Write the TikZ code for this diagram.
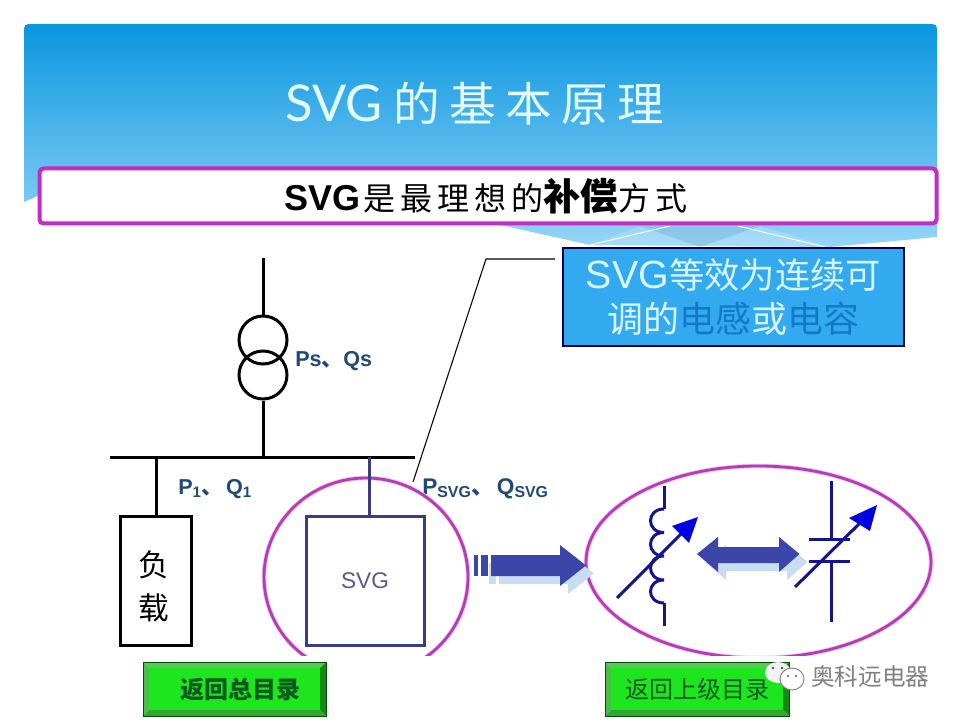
\documentclass[tikz,border=0pt]{standalone}
\usepackage{fontspec}
\setmainfont{Liberation Sans}
\newfontfamily\cjk{Noto Sans CJK SC}
\newfontfamily\cjkwide[LetterSpace=20]{Noto Sans CJK SC}
\newfontfamily\titlelatin{Lato}
\newcommand{\fs}[1]{\fontsize{#1}{#1}\selectfont}
\definecolor{navyline}{HTML}{3C3C82}
\definecolor{pinkring}{HTML}{B43CB4}
\definecolor{pinkglow}{HTML}{F2C4F2}
\definecolor{headpink}{HTML}{C42CC4}
\definecolor{darkcoil}{HTML}{14148C}
\definecolor{labelblue}{HTML}{1F4A78}
\definecolor{arrowblue}{HTML}{3C46A8}
\definecolor{arrowshadow}{HTML}{C8DCF2}
\definecolor{calloutfill}{HTML}{33AAF0}
\definecolor{calloutpale}{HTML}{D8F4FA}
\definecolor{calloutdeep}{HTML}{1478C8}
\definecolor{buttonface}{HTML}{1EE61E}
\definecolor{buttontext}{HTML}{0C5A1E}
\definecolor{bevelTop}{HTML}{58C858}
\definecolor{bevelLeft}{HTML}{48C048}
\definecolor{bevelRight}{HTML}{148A14}
\definecolor{bevelBottom}{HTML}{30A830}
\tikzset{
  blackline/.style={draw=black,line width=2.25pt},
  navystroke/.style={draw=navyline,line width=2.25pt},
  ringglow/.style={draw=pinkglow,line width=3.4pt},
  ring/.style={draw=pinkring,line width=2.1pt},
  coilline/.style={draw=darkcoil,line width=2.25pt},
  flowlabel/.style={text=labelblue,font=\bfseries\fs{16.2}\selectfont,inner sep=0pt,anchor=base west},
  bigarrow/.style={fill=arrowblue,draw=none},
  bigshadow/.style={fill=arrowshadow,draw=none},
  tiphead/.style={fill=blue!90!black,draw=none},
}
\newcommand{\greenbutton}[6]{%
  \fill[bevelTop] (#1,#2) -- (#3,#2) -- (#3-6,#2+6) -- (#1+6,#2+6) -- cycle;
  \fill[bevelLeft] (#1,#2) -- (#1+6,#2+6) -- (#1+6,#4-6) -- (#1,#4) -- cycle;
  \fill[bevelRight] (#3,#2) -- (#3,#4) -- (#3-6,#4-6) -- (#3-6,#2+6) -- cycle;
  \fill[bevelBottom] (#1,#4) -- (#3,#4) -- (#3-6,#4-6) -- (#1+6,#4-6) -- cycle;
  \node[fill=buttonface,draw=none,inner sep=0pt,minimum width=(#3-#1-12)*0.75pt,minimum height=(#4-#2-12)*0.75pt,text=buttontext] (#5) at ({(#1+#3)/2},{(#2+#4)/2}) {#6};
  \draw[draw=black!70!green,line width=0.6pt] (#1,#2) rectangle (#3,#4);
}
\begin{document}
\begin{tikzpicture}[x=0.75pt,y=-0.75pt]
\useasboundingbox (0,0) rectangle (960,720);
\fill[white] (0,0) rectangle (960,720);
% slide background
\shade[top color={rgb,255:red,10;green,150;blue,224},middle color={rgb,255:red,72;green,174;blue,236},bottom color={rgb,255:red,150;green,214;blue,248}]
  (24,202) -- (24,34) .. controls (24,24) .. (34,24) -- (927,24) .. controls (937,24) .. (937,34) -- (937,237) -- (830,247) -- (590,245) -- (505,226) -- (200,170) -- (60,186) -- cycle;
\fill[white,opacity=0.18] (640,226) -- (590,245) -- (830,247) -- (760,226) -- cycle;
\fill[black!30!calloutfill,opacity=0.18] (640,226) -- (700,247) -- (760,226) -- cycle;
\draw[white,line width=0.7pt] (590,245) -- (670,226);
\draw[white,line width=0.7pt] (738,226) -- (825,247);
% title
\node[text={rgb,255:red,226;green,250;blue,250},inner sep=0pt,anchor=west] (title) at (285,104)
  {{\titlelatin\fs{38}SVG}\hspace{8pt}{\cjkwide\fs{35}的基本原理}};
% subtitle box
\node[draw=headpink,fill=white,line width=3pt,rounded corners=3pt,minimum width=897*0.75pt,minimum height=55*0.75pt,inner sep=0pt] (head) at (488,196)
  {\hspace*{-3pt}\fs{27}\bfseries SVG\hspace{2pt}{\cjk\fs{24}\mdseries 是\hspace{3.75pt}最\hspace{3.75pt}理\hspace{3.75pt}想\hspace{3.75pt}的}{\cjk\fs{28}\bfseries 补偿}{\cjk\fs{24}\mdseries 方\hspace{3.75pt}式}};
% source branch
\coordinate (srctop) at (263,258);
\coordinate (bussrc) at (263,457);
\node[draw=black,line width=2.25pt,circle,minimum size=48*0.75pt,inner sep=0pt] (coilA) at (263,340) {};
\node[draw=black,line width=2.25pt,circle,minimum size=48*0.75pt,inner sep=0pt] (coilB) at (263,375) {};
\draw[blackline] (srctop) -- (coilA.north);
\draw[blackline] (coilB.south) -- (bussrc);
\coordinate (busL) at (110,457);
\coordinate (busR) at (415,457);
\draw[blackline] (busL) -- (busR);
\node[flowlabel] (psqs) at (295,366) {Ps{\cjk 、}Qs};
\node[flowlabel] (p1q1) at (178,494) {P\textsubscript{1}{\cjk 、}\hspace{2pt}Q\textsubscript{1}};
\node[flowlabel] (pqsvg) at (422,494) {\fs{17}P\textsubscript{SVG}{\cjk 、}\hspace{2pt}Q\textsubscript{SVG}};
% load
\coordinate (busload) at (156,457);
\node[blackline,fill=white,minimum width=71*0.75pt,minimum height=129*0.75pt,inner sep=0pt,align=center] (load) at (155.5,580.5)
  {\rule{0pt}{28pt}{\cjk\fs{23}负}\hspace*{3pt}\\[10pt]{\cjk\fs{23}载}\hspace*{3pt}};
\draw[blackline] (busload) -- (load.north -| busload);
% SVG unit with ring
\draw[ringglow] (366,577) ellipse [x radius=102,y radius=99];
\draw[ring] (366,577) ellipse [x radius=102,y radius=99];
\coordinate (bussvg) at (369,457);
\node[navystroke,minimum width=118*0.75pt,minimum height=129*0.75pt,inner sep=0pt,text=navyline!85!white] (svgbox) at (365,580.5)
  {\fs{17}SVG};
\draw[navystroke] (bussvg) -- (bussvg |- svgbox.north);
% right ring
\draw[ringglow] (758.5,562) ellipse [x radius=172.5,y radius=96];
\draw[ring] (758.5,562) ellipse [x radius=172.5,y radius=96];
% clip the rings at bottom
\fill[white] (250,655.5) rectangle (945,690);
% callout
\node[draw=black!70!blue,line width=0.8pt,fill=calloutfill,minimum width=341*0.75pt,minimum height=98*0.75pt,inner sep=0pt,align=center,text=calloutpale] (callout) at (733.5,297)
  {\fs{29.5}SVG{\cjk\fs{26.5}等效为连续可}\\[7pt]{\cjk\fs{27}调的\textcolor{calloutdeep}{电感}或\textcolor{calloutdeep}{电容}}};
\coordinate (calloutA) at (555,259);
\coordinate (calloutB) at (486,259);
\coordinate (calloutC) at (413,482);
\draw[black,line width=0.8pt] (calloutA) -- (calloutB) -- (calloutC);
% block arrow SVG to ring
\begin{scope}[shift={(8,8)}]
  \fill[bigshadow] (481,555) rectangle (488,576);
  \fill[bigshadow] (491,555) -- (560,555) -- (560,545) -- (586,565.5) -- (560,586) -- (560,576) -- (491,576) -- cycle;
\end{scope}
\fill[bigarrow] (473.5,555) rectangle (477.5,576);
\fill[bigarrow] (481,555) rectangle (488,576);
\fill[bigarrow] (491,555) -- (560,555) -- (560,545) -- (586,565.5) -- (560,586) -- (560,576) -- (491,576) -- cycle;
% double arrow
\fill[bigshadow] (705,562) -- (726,545) -- (726,555) -- (787,555) -- (787,545) -- (807.5,562) -- (787,580) -- (787,571) -- (726,571) -- (726,580) -- cycle;
\fill[bigarrow] (697,554) -- (718,537) -- (718,547) -- (779,547) -- (779,537) -- (799.5,554) -- (779,572) -- (779,563) -- (718,563) -- (718,572) -- cycle;
% inductor
\coordinate (indT) at (664,486);
\coordinate (indB) at (664,626);
\draw[coilline] (indT) -- (664,509);
\draw[coilline] (664,509) .. controls (646,509) and (646,532.5) .. (664,532.5)
  .. controls (646,532.5) and (646,556) .. (664,556)
  .. controls (646,556) and (646,580) .. (664,580)
  .. controls (646,580) and (646,603) .. (664,603);
\draw[coilline] (664,603) -- (indB);
\coordinate (indS) at (617,598);
\coordinate (indH) at (682,533);
\draw[coilline] (indS) -- (indH);
\fill[tiphead] (698,517) -- (672,526) -- (689,543) -- cycle;
% capacitor
\coordinate (capT) at (831,481);
\coordinate (capB) at (831,622);
\draw[coilline] (capT) -- (831,539);
\draw[coilline] (831,561) -- (capB);
\draw[coilline] (809,539) -- (850,539);
\draw[coilline] (809,561) -- (850,561);
\coordinate (capS) at (795,587);
\coordinate (capH) at (861,522);
\draw[coilline] (capS) -- (capH);
\fill[tiphead] (877,505) -- (849,518) -- (870,531) -- cycle;
% buttons
\greenbutton{143}{662}{326}{716}{backall}{\cjk\bfseries\fs{18}\hspace{9pt}返回总目录}
\greenbutton{605}{662}{789}{716}{backup}{\cjk\fs{18}返回上级目录\hspace{6pt}}
% watermark
\fill[black!5] (778,672.5) ellipse [x radius=13,y radius=10.5];
\fill[black!70] (773,668) circle (1.3);
\fill[black!70] (782,668) circle (1.3);
\fill[white] (792,679) ellipse [x radius=12,y radius=11];
\draw[black!50,line width=0.7pt] (792,679) ellipse [x radius=12,y radius=11];
\fill[black!70] (788,676) circle (1.1);
\fill[black!70] (796,676) circle (1.1);
\node[text=black!50,inner sep=0pt,anchor=west] (mark) at (811,677) {\cjk\fs{17.7}奥科远电器};
\end{tikzpicture}
\end{document}
